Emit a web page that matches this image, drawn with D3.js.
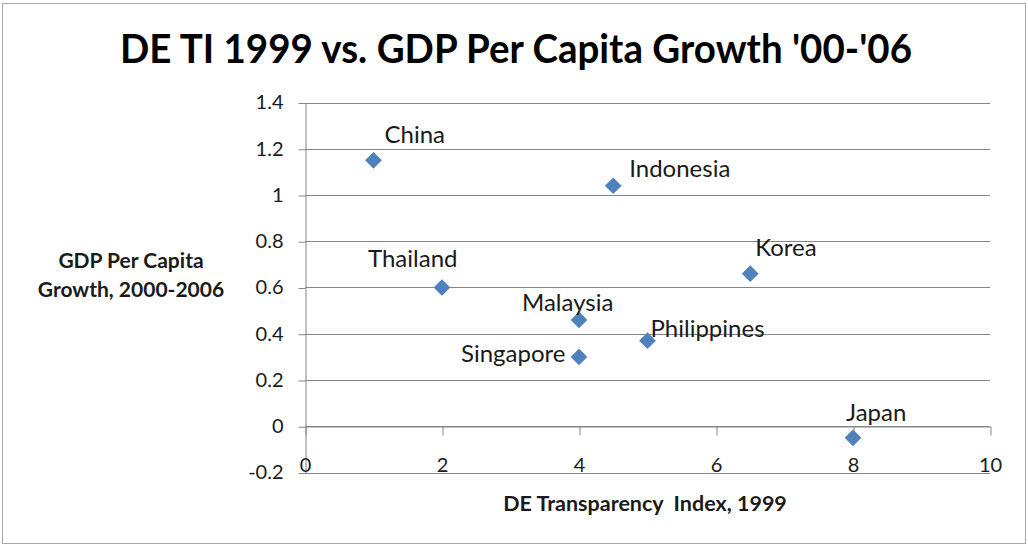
<!DOCTYPE html>
<html>
<head>
<meta charset="utf-8">
<script src="https://cdn.jsdelivr.net/npm/d3@7/dist/d3.min.js"></script>
<style>
  html, body { margin: 0; padding: 0; background: #fff; }
  svg { display: block; }
  text { font-family: Lato, "Open Sans", sans-serif; }
</style>
</head>
<body>
<svg id="chart" width="1028" height="546"></svg>
<script>
// ---- data ----
const countries    = ["China", "Indonesia", "Thailand", "Korea", "Malaysia", "Philippines", "Singapore", "Japan"];
const transparency = [1, 4.5, 2, 6.5, 4, 5, 4, 8];
const gdpGrowth    = [1.15, 1.04, 0.60, 0.66, 0.46, 0.37, 0.30, -0.05];
const xTickValues  = [0, 2, 4, 6, 8, 10];
const yTickValues  = [-0.2, 0, 0.2, 0.4, 0.6, 0.8, 1, 1.2, 1.4];
const yTickLabels  = ["-0.2", "0", "0.2", "0.4", "0.6", "0.8", "1", "1.2", "1.4"];
const titleText    = "DE TI 1999 vs. GDP Per Capita Growth '00-'06";
const yTitleLines  = ["GDP Per Capita", "Growth, 2000-2006"];
const xTitleText   = "DE Transparency  Index, 1999";

// label placement (style, not data): offset of label start/baseline from its point
const labelOffsets = {
  China: [11, -17], Indonesia: [16, -9], Thailand: [-74, -21], Korea: [5, -18],
  Malaysia: [-57, -9], Philippines: [3, -4], Singapore: [-118, 5], Japan: [-7, -17]
};

const svg = d3.select("#chart");
const gridColor = "#868686";
const textColor = "#1a1a1a";

// outer border
svg.append("rect").attr("x", 2.5).attr("y", 3.5).attr("width", 1023).attr("height", 540)
  .attr("fill", "#fff").attr("stroke", "#a6a6a6").attr("stroke-width", 1);

const x = d3.scaleLinear().domain([0, 10]).range([305, 990]);
const y = d3.scaleLinear().domain([-0.2, 1.4]).range([472.5, 102.5]);

// gridlines
svg.append("g").selectAll("line").data(yTickValues).join("line")
  .attr("x1", x(0)).attr("x2", x(10))
  .attr("y1", d => Math.round(y(d)) + 0.5).attr("y2", d => Math.round(y(d)) + 0.5)
  .attr("stroke", gridColor).attr("stroke-width", 1);

// y axis
const yAxis = d3.axisLeft(y).tickValues(yTickValues).tickSize(7).tickSizeOuter(0).tickPadding(15)
  .tickFormat((d, i) => yTickLabels[i]);
const gy = svg.append("g").attr("transform", `translate(${x(0) + 0.5},0)`).call(yAxis);
gy.select(".domain").attr("stroke", gridColor);
gy.selectAll(".tick line").attr("stroke", gridColor).attr("transform", "translate(0,0.5)");
gy.selectAll(".tick text").attr("font-family", "Lato").attr("font-size", 20).attr("fill", textColor);

// x axis at y = 0, labels near bottom
const xAxis = d3.axisBottom(x).tickValues(xTickValues).tickSize(9).tickSizeOuter(0).tickPadding(22)
  .tickFormat(d => String(d));
const gx = svg.append("g").attr("transform", `translate(0,${Math.round(y(0)) + 0.5})`).call(xAxis);
gx.select(".domain").attr("stroke", gridColor);
gx.selectAll(".tick line").attr("stroke", gridColor).attr("transform", "translate(0.5,0)");
gx.selectAll(".tick text").attr("font-family", "Lato").attr("font-size", 20).attr("fill", textColor);

// points
const pts = countries.map((c, i) => ({ name: c, xv: transparency[i], yv: gdpGrowth[i] }));
const diamond = d3.symbol().type(d3.symbolSquare).size(140);
svg.append("g").selectAll("path").data(pts).join("path")
  .attr("d", diamond)
  .attr("transform", d => `translate(${x(d.xv)},${y(d.yv)}) rotate(45)`)
  .attr("fill", "#4f81bd");

// data labels
svg.append("g").selectAll("text").data(pts).join("text")
  .attr("x", d => x(d.xv) + labelOffsets[d.name][0])
  .attr("y", d => y(d.yv) + labelOffsets[d.name][1])
  .attr("font-size", 24).attr("fill", textColor)
  .text(d => d.name);

// title
svg.append("text").attr("x", 516).attr("y", 63).attr("text-anchor", "middle")
  .attr("font-size", 41).attr("font-weight", "bold").attr("fill", "#000")
  .attr("textLength", 792).attr("lengthAdjust", "spacingAndGlyphs")
  .text(titleText);

// y axis title
svg.append("text").attr("text-anchor", "middle").attr("font-weight", "bold")
  .attr("font-size", 21).attr("fill", textColor)
  .selectAll("tspan").data(yTitleLines).join("tspan")
  .attr("x", 131).attr("y", (d, i) => 268 + i * 29).text(d => d);

// x axis title
svg.append("text").attr("x", 645).attr("y", 511).attr("text-anchor", "middle")
  .attr("font-weight", "bold").attr("font-size", 21.5).attr("fill", textColor)
  .attr("xml:space", "preserve").style("white-space", "pre")
  .text(xTitleText);
</script>
</body>
</html>
